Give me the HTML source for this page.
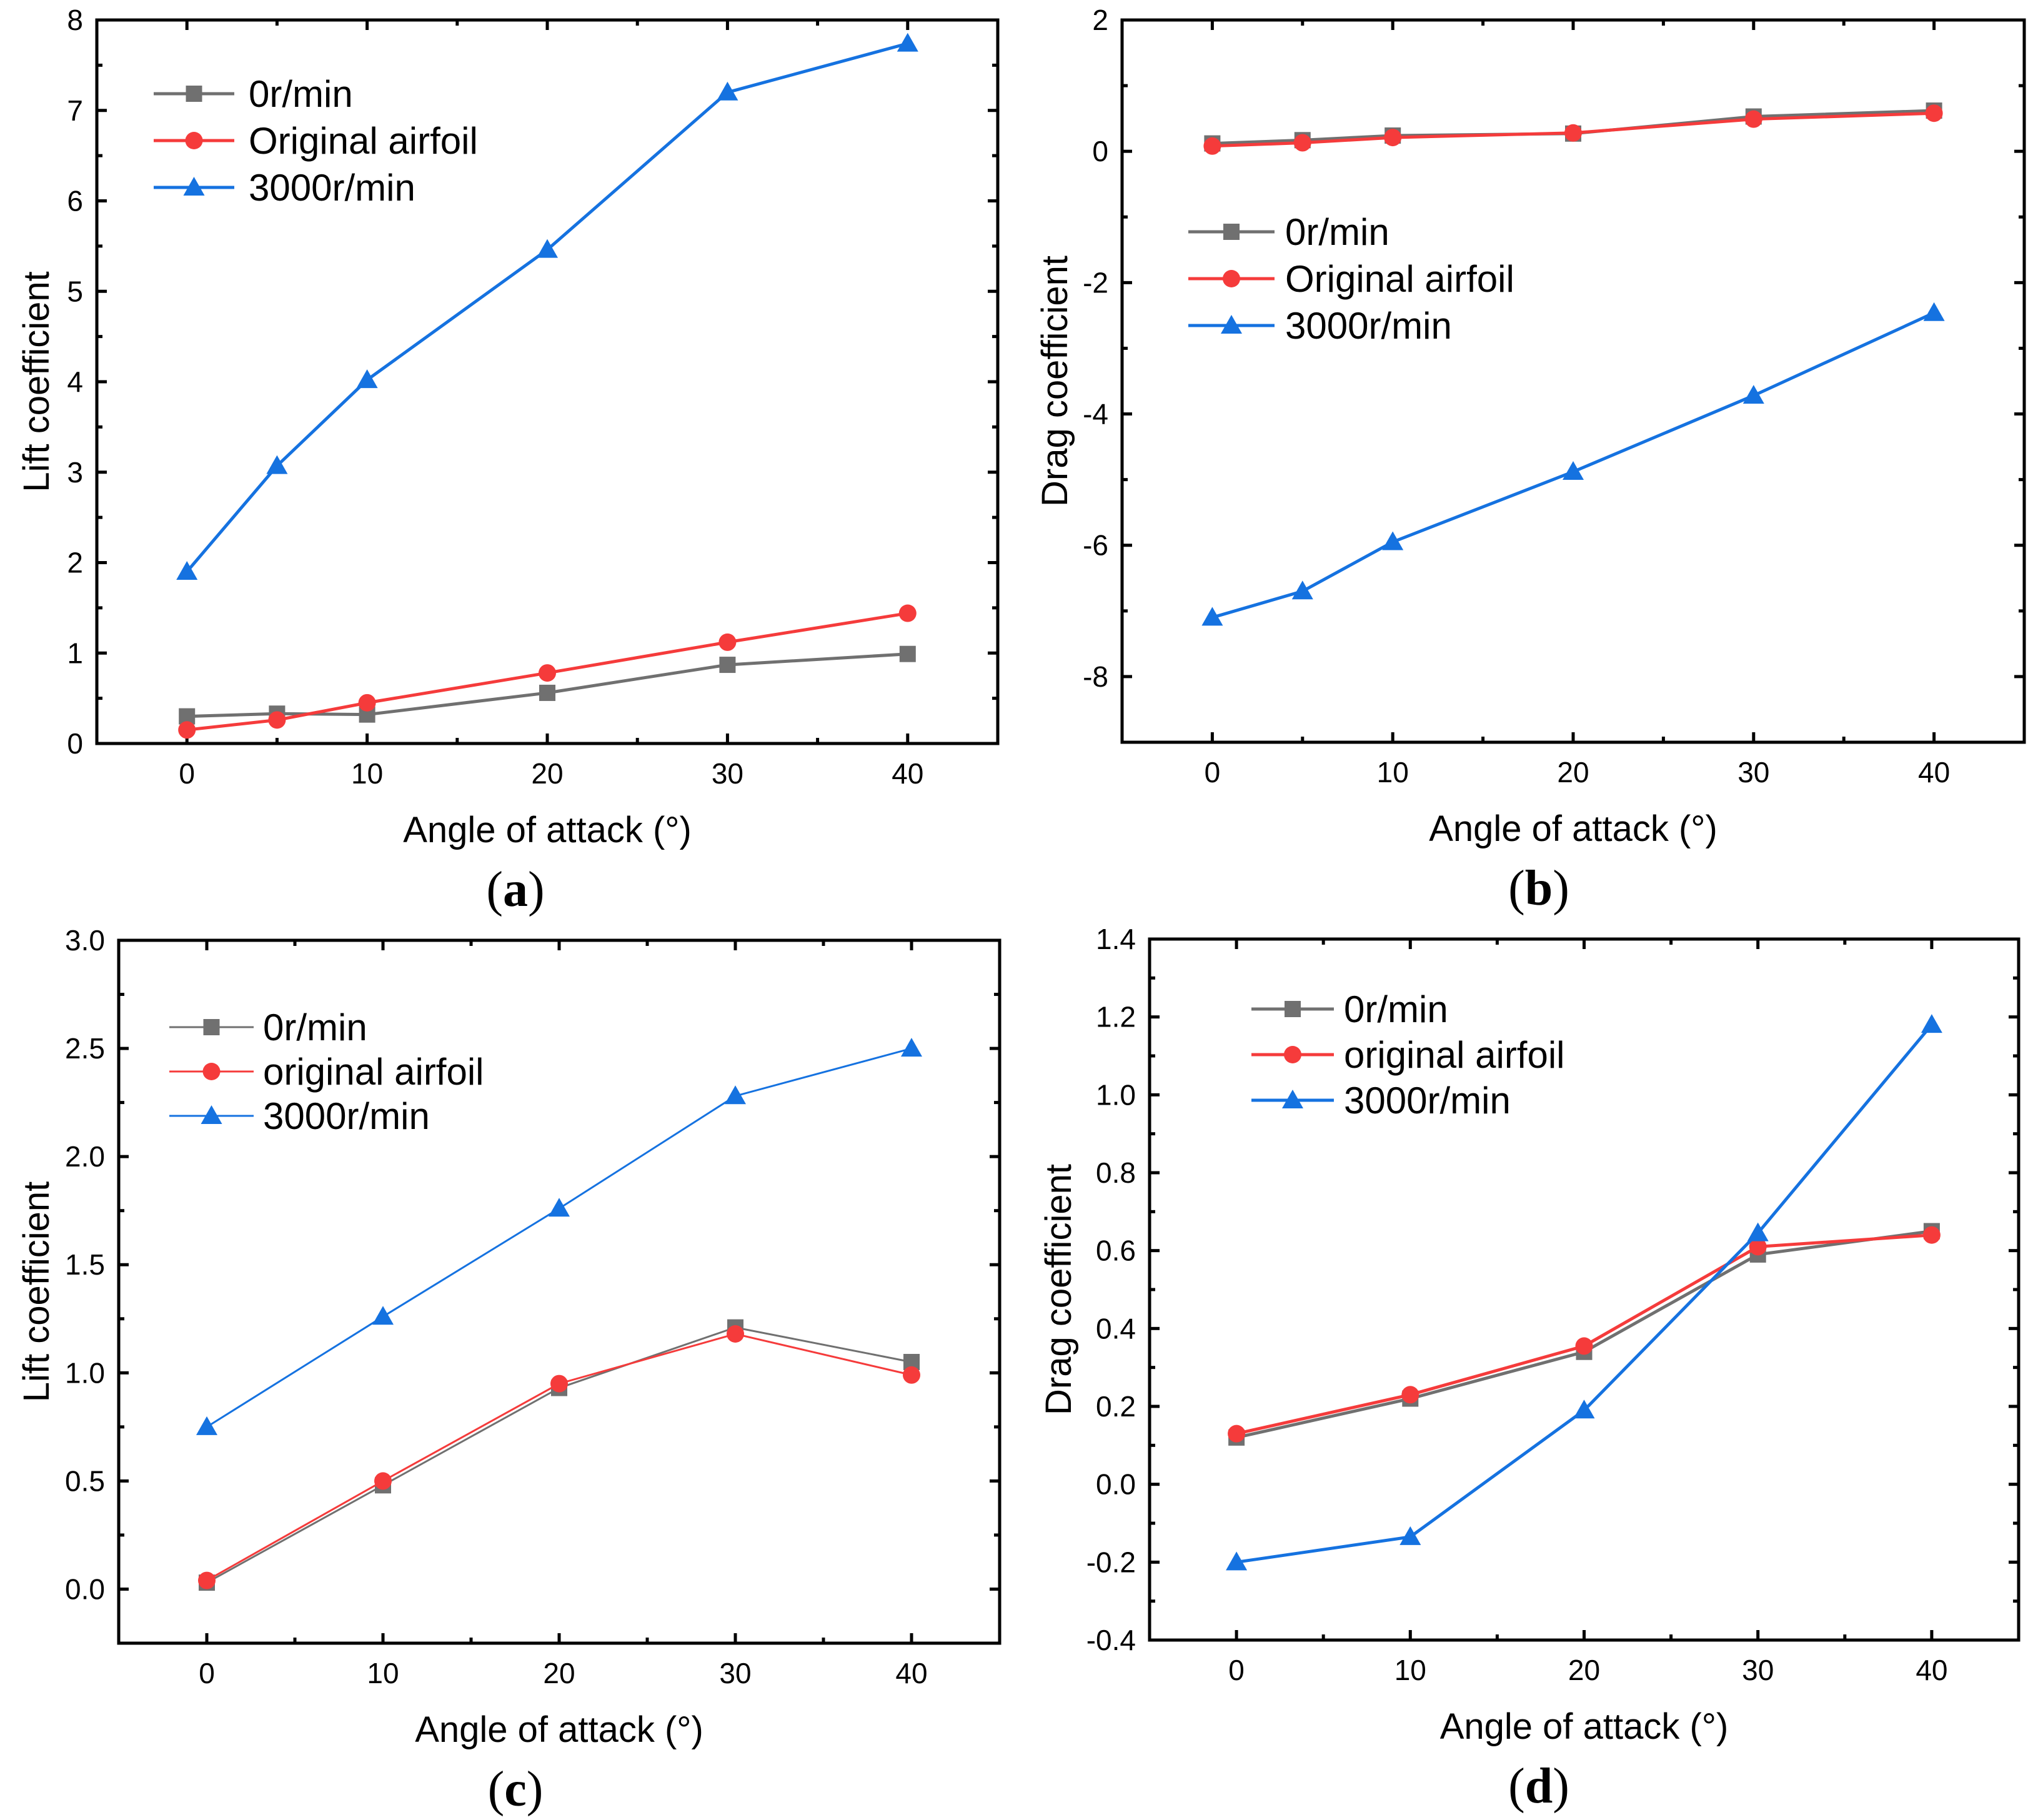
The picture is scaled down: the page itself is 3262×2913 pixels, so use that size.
<!DOCTYPE html>
<html><head><meta charset="utf-8">
<style>
html,body{margin:0;padding:0;background:#fff;}
svg{display:block;}
text{font-family:"Liberation Sans",Arial,sans-serif;fill:#000;}
.pl{font-family:"Liberation Serif",serif;}
</style></head>
<body>
<svg id="fig" width="3262" height="2913" viewBox="0 0 3262 2913" xmlns="http://www.w3.org/2000/svg"></svg>
<script>
// ---- data ----
const anglesAB = [0, 5, 10, 20, 30, 40];
const anglesCD = [0, 10, 20, 30, 40];
const liftA_0 = [0.30, 0.33, 0.32, 0.56, 0.87, 0.99];
const liftA_orig = [0.15, 0.26, 0.45, 0.78, 1.12, 1.44];
const liftA_3000 = [1.90, 3.07, 4.02, 5.46, 7.20, 7.74];
const dragB_0 = [0.12, 0.17, 0.24, 0.27, 0.53, 0.62];
const dragB_orig = [0.08, 0.13, 0.21, 0.28, 0.49, 0.58];
const dragB_3000 = [-7.10, -6.70, -5.95, -4.88, -3.72, -2.46];
const liftC_0 = [0.03, 0.48, 0.93, 1.21, 1.05];
const liftC_orig = [0.04, 0.50, 0.95, 1.18, 0.99];
const liftC_3000 = [0.75, 1.26, 1.76, 2.28, 2.50];
const dragD_0 = [0.12, 0.22, 0.34, 0.59, 0.65];
const dragD_orig = [0.13, 0.23, 0.355, 0.61, 0.64];
const dragD_3000 = [-0.20, -0.135, 0.19, 0.645, 1.18];
const xTicks = [0, 10, 20, 30, 40];
const yTicksA = [0, 1, 2, 3, 4, 5, 6, 7, 8];
const yTicksB = [-8, -6, -4, -2, 0, 2];
const yTicksC = [0.0, 0.5, 1.0, 1.5, 2.0, 2.5, 3.0];
const yTicksD = [-0.4, -0.2, 0.0, 0.2, 0.4, 0.6, 0.8, 1.0, 1.2, 1.4];
const legendA = ["0r/min", "Original airfoil", "3000r/min"];
const legendC = ["0r/min", "original airfoil", "3000r/min"];

const NS = "http://www.w3.org/2000/svg";
const svg = document.getElementById('fig');
function mk(tag, attrs, parent, txt) {
  const e = document.createElementNS(NS, tag);
  for (const k in attrs) e.setAttribute(k, attrs[k]);
  if (txt !== undefined) e.textContent = txt;
  (parent || svg).appendChild(e);
  return e;
}
const GRAY = "#707070", RED = "#f53b3b", BLUE = "#1572e0";

function panel(cfg) {
  const g = mk('g', {});
  
  
  const {L, R, T, B, ymin, ymax} = cfg;
  const xs = v => L + (v + 5) / 50 * (R - L);
  const ys = v => B - (v - ymin) / (ymax - ymin) * (B - T);
  const tg = mk('g', {stroke: '#000', 'stroke-width': 5}, g);
  
  
  for (let v = 0; v <= 45; v += 5) {
    const len = v % 10 === 0 ? 16 : 9;
    const x = xs(v);
    mk('line', {x1: x, y1: B, x2: x, y2: B - len}, tg);
    mk('line', {x1: x, y1: T, x2: x, y2: T + len}, tg);
  }
  const step = cfg.ystep / 2;
  for (let v = ymin; v <= ymax + 1e-9; v += step) {
    const k = Math.round((v - cfg.yticks[0]) / step);
    if (v < cfg.yticks[0] - 1e-9) continue;
    const len = k % 2 === 0 ? 16 : 9;
    const y = ys(v);
    mk('line', {x1: L, y1: y, x2: L + len, y2: y}, tg);
    mk('line', {x1: R, y1: y, x2: R - len, y2: y}, tg);
  }
  xTicks.forEach(v => {
    const t = mk('text', {x: xs(v), y: B + 64, 'font-size': 46, 'text-anchor': 'middle'}, g, String(v));
    
    
  });
  cfg.yticks.forEach(v => {
    const t = mk('text', {x: L - 22, y: ys(v) + 16, 'font-size': 46, 'text-anchor': 'end'}, g, cfg.fmt(v));
    
    
  });
  const series = [
    {d: cfg.s0, c: GRAY, m: 'sq', n: 'series-0rpm'},
    {d: cfg.so, c: RED, m: 'ci', n: 'series-original'},
    {d: cfg.s3, c: BLUE, m: 'tr', n: 'series-3000rpm'}
  ];
  function marker(par, m, x, y, c) {
    if (m === 'sq') mk('rect', {x: x - 13, y: y - 13, width: 26, height: 26, fill: c}, par);
    else if (m === 'ci') mk('circle', {cx: x, cy: y, r: 14, fill: c}, par);
    else mk('polygon', {points: `${x},${y - 17} ${x + 17},${y + 13} ${x - 17},${y + 13}`, fill: c}, par);
  }
  series.forEach(s => {
    const sg = mk('g', {}, g);
    
    
    const pts = s.d.map((v, i) => xs(cfg.x[i]) + ',' + ys(v)).join(' ');
    mk('polyline', {points: pts, fill: 'none', stroke: s.c, 'stroke-width': cfg.lw}, sg);
    s.d.forEach((v, i) => marker(sg, s.m, xs(cfg.x[i]), ys(v), s.c));
  });
  const fr = mk('rect', {x: L, y: T, width: R - L, height: B - T, fill: 'none', stroke: '#000', 'stroke-width': 5}, g);
  
  
  const lg = mk('g', {}, g);
  
  
  series.forEach((s, i) => {
    const y = cfg.leg.y + i * cfg.leg.dy;
    const eg = mk('g', {}, lg);
    
    
    mk('line', {x1: cfg.leg.x1, y1: y, x2: cfg.leg.x2, y2: y, stroke: s.c, 'stroke-width': cfg.lw}, eg);
    marker(eg, s.m, (cfg.leg.x1 + cfg.leg.x2) / 2, y, s.c);
    mk('text', {x: cfg.leg.tx, y: y + 21, 'font-size': 60}, eg, cfg.legText[i]);
  });
  const xt = mk('text', {x: (L + R) / 2, y: B + 158, 'font-size': 58, 'text-anchor': 'middle'}, g, 'Angle of attack (°)');
  
  
  const yc = (T + B) / 2;
  const yt = mk('text', {x: cfg.ytx, y: yc, 'font-size': 58, 'text-anchor': 'middle', transform: `rotate(-90 ${cfg.ytx} ${yc})`}, g, cfg.ytitle);
  
  
  const pl = mk('text', {x: cfg.plx, y: B + 260, 'font-size': 80, 'text-anchor': 'middle', class: 'pl'}, g);
  
  
  mk('tspan', {}, pl, '(');
  mk('tspan', {'font-weight': 'bold'}, pl, cfg.id);
  mk('tspan', {}, pl, ')');
}

const f0 = v => String(v);
const f1 = v => v.toFixed(1);
panel({id: 'a', L: 155, R: 1597, T: 32, B: 1190, ymin: 0, ymax: 8, ystep: 1, yticks: yTicksA, fmt: f0,
  x: anglesAB, s0: liftA_0, so: liftA_orig, s3: liftA_3000, lw: 5, plx: 825,
  leg: {x1: 246, x2: 375, tx: 398, y: 150, dy: 75}, legText: legendA, ytitle: 'Lift coefficient', ytx: 78});
panel({id: 'b', L: 1796, R: 3240, T: 32, B: 1188, ymin: -9, ymax: 2, ystep: 2, yticks: yTicksB, fmt: f0,
  x: anglesAB, s0: dragB_0, so: dragB_orig, s3: dragB_3000, lw: 5, plx: 2463,
  leg: {x1: 1902, x2: 2040, tx: 2057, y: 371, dy: 75}, legText: legendA, ytitle: 'Drag coefficient', ytx: 1708});
panel({id: 'c', L: 190, R: 1600, T: 1505, B: 2630, ymin: -0.25, ymax: 3.0, ystep: 0.5, yticks: yTicksC, fmt: f1,
  x: anglesCD, s0: liftC_0, so: liftC_orig, s3: liftC_3000, lw: 3, plx: 825,
  leg: {x1: 271, x2: 406, tx: 421, y: 1644, dy: 71}, legText: legendC, ytitle: 'Lift coefficient', ytx: 78});
panel({id: 'd', L: 1840, R: 3231, T: 1503, B: 2625, ymin: -0.4, ymax: 1.4, ystep: 0.2, yticks: yTicksD, fmt: f1,
  x: anglesCD, s0: dragD_0, so: dragD_orig, s3: dragD_3000, lw: 5, plx: 2463,
  leg: {x1: 2003, x2: 2135, tx: 2151, y: 1615, dy: 73}, legText: legendC, ytitle: 'Drag coefficient', ytx: 1714});
</script>
</body></html>
